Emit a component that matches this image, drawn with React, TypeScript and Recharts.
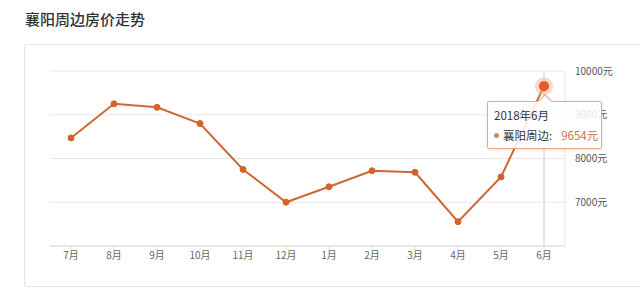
import React from "react";
import {
  LineChart,
  Line,
  XAxis,
  YAxis,
  CartesianGrid,
  Tooltip,
} from "recharts";

const months = ["7月", "8月", "9月", "10月", "11月", "12月", "1月", "2月", "3月", "4月", "5月", "6月"];
const years = [2017, 2017, 2017, 2017, 2017, 2017, 2018, 2018, 2018, 2018, 2018, 2018];
const prices = [8470, 9250, 9170, 8800, 7750, 7000, 7355, 7720, 7685, 6555, 7580, 9654];
const yTicks = [6000, 7000, 8000, 9000, 10000];
const seriesName = "襄阳周边";

const data = months.map((m, i) => ({ month: m, year: years[i], price: prices[i] }));

const font = '"Noto Sans CJK SC", "Noto Sans", sans-serif';
const lineColor = "#cf6730";

function PriceTooltip({ active, payload }: any) {
  if (!active || !payload || !payload.length) return null;
  const p = payload[0].payload;
  return (
    <div
      style={{
        position: "relative",
        width: 115,
        height: 48,
        background: "rgba(255,255,255,0.85)",
        border: "1px solid #eaa883",
        borderRadius: 2,
        boxShadow: "0 1px 3px rgba(0,0,0,0.12)",
        fontFamily: font,
        fontSize: 11.5,
        color: "#333",
        boxSizing: "border-box",
        whiteSpace: "nowrap",
      }}
    >
      <div
        style={{
          position: "absolute",
          left: 52,
          top: -6,
          width: 9,
          height: 9,
          background: "#fff",
          borderLeft: "1px solid #eaa883",
          borderTop: "1px solid #eaa883",
          transform: "rotate(45deg)",
        }}
      />
      <div style={{ position: "absolute", left: 6, top: 5 }}>{`${p.year}年${p.month}`}</div>
      <div style={{ position: "absolute", left: 6, top: 25, display: "flex", alignItems: "center" }}>
        <span
          style={{
            display: "inline-block",
            width: 5,
            height: 5,
            borderRadius: 3,
            background: "#c98a68",
            marginRight: 4,
          }}
        />
        <span>{seriesName}:</span>
        <span style={{ marginLeft: 9, color: "#c8714a" }}>{`${p.price}元`}</span>
      </div>
    </div>
  );
}

function ActiveDot(props: any) {
  const { cx, cy } = props;
  return (
    <g>
      <circle cx={cx} cy={cy} r={9} fill="#f4b49a" fillOpacity={0.5} />
      <circle cx={cx} cy={cy} r={5} fill="#e8582a" />
    </g>
  );
}

export default function App() {
  return (
    <div style={{ position: "absolute", left: 0, top: 0, width: 640, height: 290, background: "#fff" }}>
      <div
        style={{
          position: "absolute",
          left: 25,
          top: 8,
          fontFamily: font,
          fontSize: 15,
          fontWeight: 500,
          color: "#333",
        }}
      >
        襄阳周边房价走势
      </div>
      <div
        style={{
          position: "absolute",
          left: 24,
          top: 44,
          width: 630,
          height: 243,
          border: "1px solid #e6e6e6",
          borderRadius: 2,
          boxSizing: "border-box",
        }}
      />
      <div style={{ position: "absolute", left: 0, top: 0 }}>
        <LineChart
          width={640}
          height={290}
          data={data}
          margin={{ top: 71, right: 15, bottom: 14, left: 50 }}
        >
          <CartesianGrid stroke="#e8e8e8" vertical={false} />
          <XAxis
            dataKey="month"
            padding={{ left: 21, right: 21 }}
            axisLine={{ stroke: "#dcdcdc" }}
            tickLine={{ stroke: "#dcdcdc" }}
            tickSize={4}
            height={30}
            tick={{ fill: "#666", fontSize: 10, fontFamily: font }}
            interval={0}
          />
          <YAxis
            orientation="right"
            domain={[6000, 10000]}
            ticks={yTicks}
            width={60}
            axisLine={{ stroke: "#e8e8e8" }}
            tickLine={false}
            tickSize={0}
            tickMargin={10}
            tick={{ fill: "#555", fontSize: 10, fontFamily: font }}
            tickFormatter={(v) => (v === 6000 ? "" : `${v}元`)}
          />
          <Tooltip
            defaultIndex={11}
            active
            isAnimationActive={false}
            content={<PriceTooltip />}
            position={{ x: 487, y: 101 }}
            cursor={{ stroke: "#cccccc", strokeWidth: 1 }}
            wrapperStyle={{ outline: "none" }}
            allowEscapeViewBox={{ x: true, y: true }}
          />
          <Line
            type="linear"
            dataKey="price"
            stroke={lineColor}
            strokeWidth={2}
            dot={{ r: 3, fill: "#d4622b", stroke: "#d4622b", strokeWidth: 1 }}
            activeDot={<ActiveDot />}
            isAnimationActive={false}
          />
        </LineChart>
      </div>
    </div>
  );
}
